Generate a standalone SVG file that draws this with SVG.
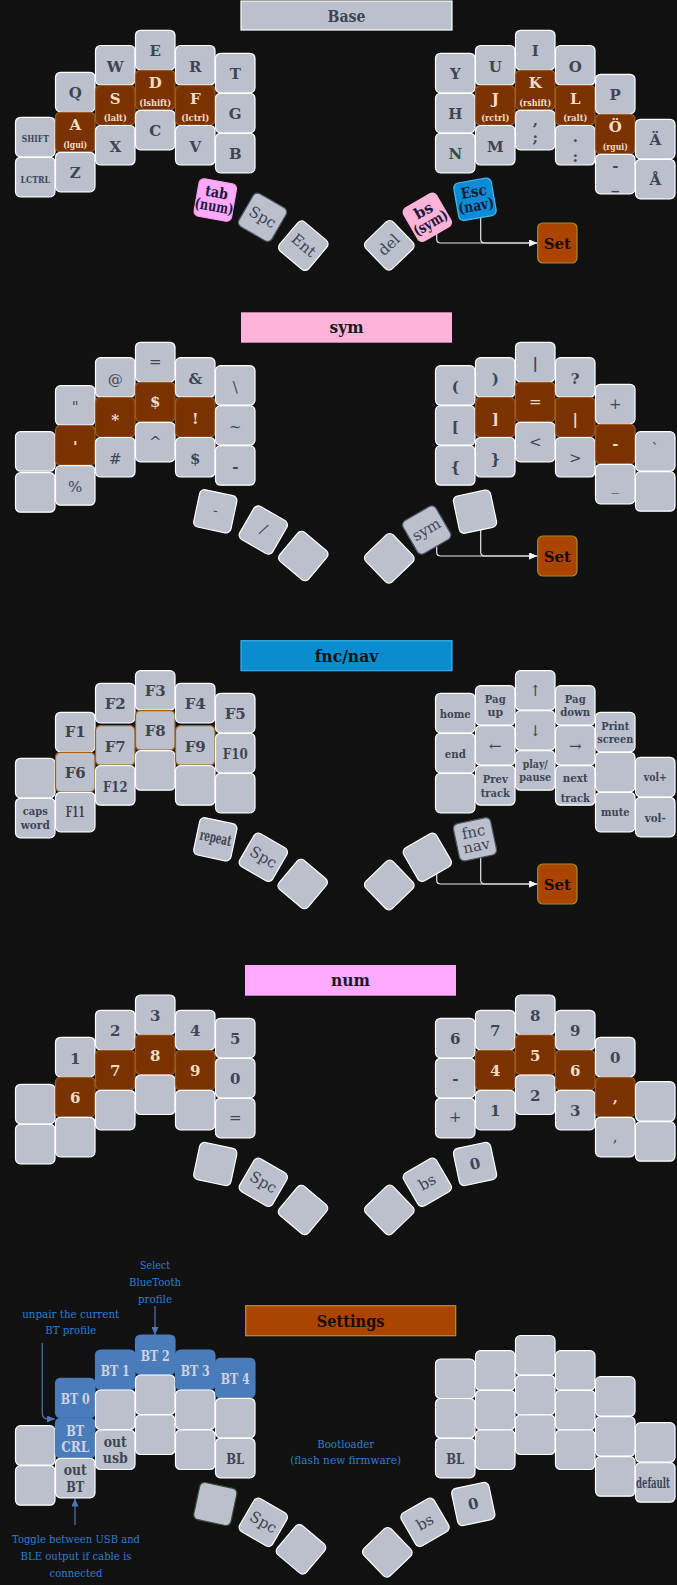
<svg xmlns="http://www.w3.org/2000/svg" width="677" height="1585" viewBox="0 0 677 1585">
<style>
.k{fill:#bcc0cc;stroke:#fff;stroke-width:1.2;rx:5px}
.h{fill:#7a3300;stroke:#9c5c1c}
.o{stroke:#a0600f}
.b{fill:#4a7cbc;stroke:#4a7cbc}
.dk{stroke:#4e5564}
.t{font-family:"DejaVu Serif",serif;font-weight:bold;font-size:15px;fill:#3c4656;text-anchor:middle}
.s{font-size:10px}
.m{font-size:11px}
.l{fill:#f3dcc6}
.w{fill:#cfd3de}
.n{font-weight:normal}
.d{fill:#1a1a3a}
.c{fill:none;stroke:#e6e6e6;stroke-width:1.2}
.a{font-family:"DejaVu Serif",serif;font-size:11px;fill:#2a7fd4;text-anchor:middle}
.ab{fill:none;stroke:#4a78b0;stroke-width:1.2}
.ttl{font-family:"DejaVu Serif",serif;font-weight:bold;font-size:17px;text-anchor:middle}
.set{fill:#aa4400;stroke:#a88a2a;stroke-width:1.2;rx:5px}
</style>
<defs>
<marker id="aw" markerWidth="8" markerHeight="7" refX="8" refY="3.5" orient="auto" markerUnits="userSpaceOnUse"><path d="M0,0 L8,3.5 L0,7 z" fill="#f0f0f0"/></marker>
<marker id="ab" markerWidth="8" markerHeight="7" refX="8" refY="3.5" orient="auto" markerUnits="userSpaceOnUse"><path d="M0,0 L8,3.5 L0,7 z" fill="#4a78b0"/></marker>
</defs>
<rect width="677" height="1585" fill="#111111"/>

<g id="connectors">
<path class="c" d="M436.7,228 V239 Q436.7,243 440.7,243 H537" marker-end="url(#aw)"/>
<path class="c" d="M480.7,208 V239 Q480.7,243 484.7,243 H537" marker-end="url(#aw)"/>
<path class="c" d="M436.7,540 V552 Q436.7,556 440.7,556 H537" marker-end="url(#aw)"/>
<path class="c" d="M480.7,520 V552 Q480.7,556 484.7,556 H537" marker-end="url(#aw)"/>
<path class="c" d="M436.7,866 V880 Q436.7,884 440.7,884 H537" marker-end="url(#aw)"/>
<path class="c" d="M480.7,848 V880 Q480.7,884 484.7,884 H537" marker-end="url(#aw)"/>
<path class="ab" d="M155,1306 V1335" marker-end="url(#ab)"/>
<path class="ab" d="M42.3,1343 V1413 Q42.3,1419 48.3,1419 H55" marker-end="url(#ab)"/>
<path class="ab" d="M75,1525 V1498.5" marker-end="url(#ab)"/>
</g>

<!-- ================= BASE ================= -->
<g id="base">
<g id="base-title"><rect x="241" y="1" width="211" height="29" fill="#bcc0cc" stroke="#fff" stroke-width="1.2"/><text class="ttl" x="346.5" y="21.5" fill="#3c4656" textLength="38" lengthAdjust="spacingAndGlyphs">Base</text></g>
<g id="b-shift" transform="translate(15.5,117.3)"><rect class="k" width="39.5" height="39.5"/><text class="t s" x="19.75" y="25" textLength="27" lengthAdjust="spacingAndGlyphs">SHIFT</text></g>
<g id="b-lctrl" transform="translate(15.5,157.3)"><rect class="k" width="39.5" height="39.5"/><text class="t s" x="19.75" y="26" textLength="29.5" lengthAdjust="spacingAndGlyphs">LCTRL</text></g>
<g id="b-q" transform="translate(55.5,72.3)"><rect class="k" width="39.5" height="39.5"/><text class="t" x="19.75" y="26">Q</text></g>
<g id="b-a" transform="translate(55.5,112.3)"><rect class="k h" width="39.5" height="39.5"/><text class="t l" x="19.75" y="18">A</text><text class="t s l" x="19.75" y="35.5" textLength="24" lengthAdjust="spacingAndGlyphs">(lgui)</text></g>
<g id="b-z" transform="translate(55.5,152.3)"><rect class="k" width="39.5" height="39.5"/><text class="t" x="19.75" y="26">Z</text></g>
<g id="b-w" transform="translate(95.5,45.5)"><rect class="k" width="39.5" height="39.5"/><text class="t" x="19.75" y="26">W</text></g>
<g id="b-s" transform="translate(95.5,85.5)"><rect class="k h" width="39.5" height="39.5"/><text class="t l" x="19.75" y="18">S</text><text class="t s l" x="19.75" y="35.5" textLength="23" lengthAdjust="spacingAndGlyphs">(lalt)</text></g>
<g id="b-x" transform="translate(95.5,125.5)"><rect class="k" width="39.5" height="39.5"/><text class="t" x="19.75" y="26">X</text></g>
<g id="b-e" transform="translate(135.5,30.3)"><rect class="k" width="39.5" height="39.5"/><text class="t" x="19.75" y="26">E</text></g>
<g id="b-d" transform="translate(135.5,70.3)"><rect class="k h" width="39.5" height="39.5"/><text class="t l" x="19.75" y="18">D</text><text class="t s l" x="19.75" y="35.5" textLength="32" lengthAdjust="spacingAndGlyphs">(lshift)</text></g>
<g id="b-c" transform="translate(135.5,110.3)"><rect class="k" width="39.5" height="39.5"/><text class="t" x="19.75" y="26">C</text></g>
<g id="b-r" transform="translate(175.5,45.5)"><rect class="k" width="39.5" height="39.5"/><text class="t" x="19.75" y="26">R</text></g>
<g id="b-f" transform="translate(175.5,85.5)"><rect class="k h" width="39.5" height="39.5"/><text class="t l" x="19.75" y="18">F</text><text class="t s l" x="19.75" y="35.5" textLength="28" lengthAdjust="spacingAndGlyphs">(lctrl)</text></g>
<g id="b-v" transform="translate(175.5,125.5)"><rect class="k" width="39.5" height="39.5"/><text class="t" x="19.75" y="26">V</text></g>
<g id="b-t" transform="translate(215.5,53.3)"><rect class="k" width="39.5" height="39.5"/><text class="t" x="19.75" y="26">T</text></g>
<g id="b-g" transform="translate(215.5,93.3)"><rect class="k" width="39.5" height="39.5"/><text class="t" x="19.75" y="26">G</text></g>
<g id="b-b" transform="translate(215.5,133.3)"><rect class="k" width="39.5" height="39.5"/><text class="t" x="19.75" y="26">B</text></g>
<g id="b-y" transform="translate(435.5,53.3)"><rect class="k" width="39.5" height="39.5"/><text class="t" x="19.75" y="26">Y</text></g>
<g id="b-h" transform="translate(435.5,93.3)"><rect class="k" width="39.5" height="39.5"/><text class="t" x="19.75" y="26">H</text></g>
<g id="b-n" transform="translate(435.5,133.3)"><rect class="k" width="39.5" height="39.5"/><text class="t" x="19.75" y="26">N</text></g>
<g id="b-u" transform="translate(475.5,45.5)"><rect class="k" width="39.5" height="39.5"/><text class="t" x="19.75" y="26">U</text></g>
<g id="b-j" transform="translate(475.5,85.5)"><rect class="k h" width="39.5" height="39.5"/><text class="t l" x="19.75" y="18">J</text><text class="t s l" x="19.75" y="35.5" textLength="28" lengthAdjust="spacingAndGlyphs">(rctrl)</text></g>
<g id="b-m" transform="translate(475.5,125.5)"><rect class="k" width="39.5" height="39.5"/><text class="t" x="19.75" y="26">M</text></g>
<g id="b-i" transform="translate(515.5,30.3)"><rect class="k" width="39.5" height="39.5"/><text class="t" x="19.75" y="26">I</text></g>
<g id="b-k" transform="translate(515.5,70.3)"><rect class="k h" width="39.5" height="39.5"/><text class="t l" x="19.75" y="18">K</text><text class="t s l" x="19.75" y="35.5" textLength="32" lengthAdjust="spacingAndGlyphs">(rshift)</text></g>
<g id="b-comma" transform="translate(515.5,110.3)"><rect class="k" width="39.5" height="39.5"/><text class="t" x="19.75" y="15">,</text><text class="t" x="19.75" y="33">;</text></g>
<g id="b-o" transform="translate(555.5,45.5)"><rect class="k" width="39.5" height="39.5"/><text class="t" x="19.75" y="26">O</text></g>
<g id="b-l" transform="translate(555.5,85.5)"><rect class="k h" width="39.5" height="39.5"/><text class="t l" x="19.75" y="18">L</text><text class="t s l" x="19.75" y="35.5" textLength="24" lengthAdjust="spacingAndGlyphs">(ralt)</text></g>
<g id="b-dot" transform="translate(555.5,125.5)"><rect class="k" width="39.5" height="39.5"/><text class="t" x="19.75" y="16">.</text><text class="t" x="19.75" y="36">:</text></g>
<g id="b-p" transform="translate(595.5,74.3)"><rect class="k" width="39.5" height="39.5"/><text class="t" x="19.75" y="26">P</text></g>
<g id="b-oe" transform="translate(595.5,114.3)"><rect class="k h" width="39.5" height="39.5"/><text class="t l" x="19.75" y="18">Ö</text><text class="t s l" x="19.75" y="35.5" textLength="25" lengthAdjust="spacingAndGlyphs">(rgui)</text></g>
<g id="b-dash" transform="translate(595.5,154.3)"><rect class="k" width="39.5" height="39.5"/><text class="t" x="19.75" y="16.5">-</text><text class="t" x="19.75" y="35">_</text></g>
<g id="b-ae" transform="translate(635.5,119.3)"><rect class="k" width="39.5" height="39.5"/><text class="t" x="19.75" y="26">Ä</text></g>
<g id="b-aa" transform="translate(635.5,159.3)"><rect class="k" width="39.5" height="39.5"/><text class="t" x="19.75" y="26">Å</text></g>
<g id="b-tab" transform="translate(215.3,200) rotate(10)"><rect class="k" x="-19" y="-19" width="38" height="38" style="fill:#ffaaff;stroke:#ff99ee"/><text class="t d" x="0" y="-2.5" font-size="14" textLength="23" lengthAdjust="spacingAndGlyphs">tab</text><text class="t d" x="0" y="11.5" font-size="14" textLength="39" lengthAdjust="spacingAndGlyphs">(num)</text></g>
<g id="b-spc" transform="translate(262.5,217.3) rotate(30)"><rect class="k dk" x="-19" y="-19" width="38" height="38"/><text class="t n" x="0" y="5" font-size="14">Spc</text></g>
<g id="b-ent" transform="translate(303.3,245.7) rotate(40)"><rect class="k" x="-19" y="-19" width="38" height="38"/><text class="t n" x="0" y="4.5" font-size="13">Ent</text></g>
<g id="b-del" transform="translate(389.3,245.3) rotate(-44)"><rect class="k" x="-19" y="-19" width="38" height="38"/><text class="t n" x="0" y="4.5" font-size="13">del</text></g>
<g id="b-bs" transform="translate(427.3,217.3) rotate(-30)"><rect class="k" x="-19" y="-19" width="38" height="38" style="fill:#ffb3d9;stroke:#ffb3d9"/><text class="t d" x="0" y="-2.5" font-size="14">bs</text><text class="t d" x="0" y="11.5" font-size="14" textLength="37" lengthAdjust="spacingAndGlyphs">(sym)</text></g>
<g id="b-esc" transform="translate(475,199.3) rotate(-10)"><rect class="k" x="-19" y="-19" width="38" height="38" style="fill:#0a8dd4;stroke:#45b6f2"/><text class="t d" x="0" y="-2.5" font-size="14" textLength="26" lengthAdjust="spacingAndGlyphs">Esc</text><text class="t d" x="0" y="11.5" font-size="14" textLength="36" lengthAdjust="spacingAndGlyphs">(nav)</text></g>
<g id="b-set"><rect class="set" x="537.7" y="223" width="39.3" height="40"/><text class="t" x="557.3" y="248.5" style="fill:#1a0a00">Set</text></g>
</g>

<!-- ================= SYM ================= -->
<g id="sym">
<g id="sym-title"><rect x="241" y="312.3" width="211" height="30.4" fill="#ffb3d9"/><text class="ttl" x="346.5" y="333" fill="#1a1a1a" textLength="34" lengthAdjust="spacingAndGlyphs">sym</text></g>
<g id="s-l0a" transform="translate(15.5,431.7)"><rect class="k" width="39.5" height="39.5"/></g>
<g id="s-l0b" transform="translate(15.5,472.7)"><rect class="k" width="39.5" height="39.5"/></g>
<g id="s-dq" transform="translate(55.5,385.7)"><rect class="k" width="39.5" height="39.5"/><text class="t n" x="19.75" y="26">"</text></g>
<g id="s-sq" transform="translate(55.5,425.5)"><rect class="k h" width="39.5" height="39.5"/><text class="t l" x="19.75" y="26">'</text></g>
<g id="s-pct" transform="translate(55.5,465.7)"><rect class="k" width="39.5" height="39.5"/><text class="t n" x="19.75" y="26">%</text></g>
<g id="s-at" transform="translate(95.5,357.7)"><rect class="k" width="39.5" height="39.5"/><text class="t n" x="19.75" y="26">@</text></g>
<g id="s-ast" transform="translate(95.5,397.5)"><rect class="k h" width="39.5" height="39.5"/><text class="t l" x="19.75" y="27">*</text></g>
<g id="s-hash" transform="translate(95.5,437.5)"><rect class="k" width="39.5" height="39.5"/><text class="t n" x="19.75" y="26">#</text></g>
<g id="s-eq" transform="translate(135.5,342.3)"><rect class="k" width="39.5" height="39.5"/><text class="t n" x="19.75" y="25">=</text></g>
<g id="s-dol" transform="translate(135.5,382.3)"><rect class="k h" width="39.5" height="39.5"/><text class="t l" x="19.75" y="25">$</text></g>
<g id="s-car" transform="translate(135.5,422.3)"><rect class="k" width="39.5" height="39.5"/><text class="t n" x="19.75" y="25">^</text></g>
<g id="s-amp" transform="translate(175.5,357.7)"><rect class="k" width="39.5" height="39.5"/><text class="t" x="19.75" y="26">&amp;</text></g>
<g id="s-exc" transform="translate(175.5,397.5)"><rect class="k h" width="39.5" height="39.5"/><text class="t l" x="19.75" y="26">!</text></g>
<g id="s-dol2" transform="translate(175.5,437.5)"><rect class="k" width="39.5" height="39.5"/><text class="t" x="19.75" y="26">$</text></g>
<g id="s-bsl" transform="translate(215.5,365.7)"><rect class="k" width="39.5" height="39.5"/><text class="t n" x="19.75" y="26">\</text></g>
<g id="s-til" transform="translate(215.5,405.7)"><rect class="k" width="39.5" height="39.5"/><text class="t n" x="19.75" y="26">~</text></g>
<g id="s-min" transform="translate(215.5,445.7)"><rect class="k" width="39.5" height="39.5"/><text class="t" x="19.75" y="26">-</text></g>
<g id="s-lp" transform="translate(435.5,365.7)"><rect class="k" width="39.5" height="39.5"/><text class="t" x="19.75" y="26">(</text></g>
<g id="s-lb" transform="translate(435.5,405.7)"><rect class="k" width="39.5" height="39.5"/><text class="t" x="19.75" y="26">[</text></g>
<g id="s-lc" transform="translate(435.5,445.7)"><rect class="k" width="39.5" height="39.5"/><text class="t" x="19.75" y="26">{</text></g>
<g id="s-rp" transform="translate(475.5,357.7)"><rect class="k" width="39.5" height="39.5"/><text class="t" x="19.75" y="26">)</text></g>
<g id="s-rb" transform="translate(475.5,397.5)"><rect class="k h" width="39.5" height="39.5"/><text class="t l" x="19.75" y="26">]</text></g>
<g id="s-rc" transform="translate(475.5,437.5)"><rect class="k" width="39.5" height="39.5"/><text class="t" x="19.75" y="26">}</text></g>
<g id="s-pipe" transform="translate(515.5,342.3)"><rect class="k" width="39.5" height="39.5"/><text class="t" x="19.75" y="26">|</text></g>
<g id="s-eq2" transform="translate(515.5,382.3)"><rect class="k h" width="39.5" height="39.5"/><text class="t l n" x="19.75" y="25">=</text></g>
<g id="s-lt" transform="translate(515.5,422.3)"><rect class="k" width="39.5" height="39.5"/><text class="t n" x="19.75" y="25">&lt;</text></g>
<g id="s-q" transform="translate(555.5,357.7)"><rect class="k" width="39.5" height="39.5"/><text class="t" x="19.75" y="26">?</text></g>
<g id="s-pipe2" transform="translate(555.5,397.5)"><rect class="k h" width="39.5" height="39.5"/><text class="t l" x="19.75" y="26">|</text></g>
<g id="s-gt" transform="translate(555.5,437.5)"><rect class="k" width="39.5" height="39.5"/><text class="t n" x="19.75" y="25">&gt;</text></g>
<g id="s-plus" transform="translate(595.5,384.3)"><rect class="k" width="39.5" height="39.5"/><text class="t n" x="19.75" y="25">+</text></g>
<g id="s-dash" transform="translate(595.5,424.3)"><rect class="k h" width="39.5" height="39.5"/><text class="t l" x="19.75" y="25">-</text></g>
<g id="s-us" transform="translate(595.5,464.3)"><rect class="k" width="39.5" height="39.5"/><text class="t n" x="19.75" y="26">_</text></g>
<g id="s-bt" transform="translate(635.5,431.7)"><rect class="k" width="39.5" height="39.5"/><text class="t n" x="19.75" y="22">`</text></g>
<g id="s-r5b" transform="translate(635.5,471.7)"><rect class="k" width="39.5" height="39.5"/></g>
<g id="s-t1" transform="translate(215.3,511.3) rotate(12)"><rect class="k" x="-19" y="-19" width="38" height="38"/><text class="t n" x="0" y="4" font-size="12">-</text></g>
<g id="s-t2" transform="translate(263.3,530) rotate(30)"><rect class="k" x="-19" y="-19" width="38" height="38"/><text class="t n" x="0" y="4" font-size="12">/</text></g>
<g id="s-t3" transform="translate(303.3,556) rotate(40)"><rect class="k" x="-19" y="-19" width="38" height="38"/></g>
<g id="s-t4" transform="translate(389.3,558.3) rotate(-44)"><rect class="k" x="-19" y="-19" width="38" height="38"/></g>
<g id="s-t5" transform="translate(426.7,530) rotate(-30)"><rect class="k dk" x="-19" y="-19" width="38" height="38"/><text class="t n" x="0" y="4.5" font-size="14" textLength="30" lengthAdjust="spacingAndGlyphs">sym</text></g>
<g id="s-t6" transform="translate(475,511.7) rotate(-12)"><rect class="k" x="-19" y="-19" width="38" height="38"/></g>
<g id="s-set"><rect class="set" x="537.7" y="536" width="39.3" height="40"/><text class="t" x="557.3" y="561.5" style="fill:#1a0a00">Set</text></g>
</g>

<!-- ================= FNC/NAV ================= -->
<g id="fnc">
<g id="fnc-title"><rect x="241" y="640.7" width="211" height="30" fill="#0a8dcf" stroke="#3ab0f0" stroke-width="1.2"/><text class="ttl" x="346.5" y="661.5" fill="#111" textLength="63.7" lengthAdjust="spacingAndGlyphs">fnc/nav</text></g>
<g id="f-l0a" transform="translate(15.5,758.3)"><rect class="k" width="39.5" height="39.5"/></g>
<g id="f-caps" transform="translate(15.5,798.3)"><rect class="k" width="39.5" height="39.5"/><text class="t m" x="19.75" y="17" textLength="25" lengthAdjust="spacingAndGlyphs">caps</text><text class="t m" x="19.75" y="31" textLength="29" lengthAdjust="spacingAndGlyphs">word</text></g>
<g id="f-f1" transform="translate(55.5,712.3)"><rect class="k" width="39.5" height="39.5"/><text class="t" x="19.75" y="25" font-size="12">F1</text></g>
<g id="f-f6" transform="translate(55.5,752.3)"><rect class="k o" width="39.5" height="39.5"/><text class="t" x="19.75" y="25.5">F6</text></g>
<g id="f-f11" transform="translate(55.5,792.3)"><rect class="k" width="39.5" height="39.5"/><text class="t" x="19.75" y="25" font-size="12" textLength="19" lengthAdjust="spacingAndGlyphs">F11</text></g>
<g id="f-f2" transform="translate(95.5,683.3)"><rect class="k" width="39.5" height="39.5"/><text class="t" x="19.75" y="26">F2</text></g>
<g id="f-f7" transform="translate(95.5,725.7)"><rect class="k o" width="39.5" height="39.5"/><text class="t" x="19.75" y="26">F7</text></g>
<g id="f-f12" transform="translate(95.5,765.7)"><rect class="k" width="39.5" height="39.5"/><text class="t" x="19.75" y="26" textLength="24.5" lengthAdjust="spacingAndGlyphs">F12</text></g>
<g id="f-f3" transform="translate(135.5,670.7)"><rect class="k" width="39.5" height="39.5"/><text class="t" x="19.75" y="25.5">F3</text></g>
<g id="f-f8" transform="translate(135.5,710.7)"><rect class="k o" width="39.5" height="39.5"/><text class="t" x="19.75" y="25.5">F8</text></g>
<g id="f-l3c" transform="translate(135.5,750.7)"><rect class="k" width="39.5" height="39.5"/></g>
<g id="f-f4" transform="translate(175.5,683.3)"><rect class="k" width="39.5" height="39.5"/><text class="t" x="19.75" y="26">F4</text></g>
<g id="f-f9" transform="translate(175.5,725.7)"><rect class="k o" width="39.5" height="39.5"/><text class="t" x="19.75" y="26">F9</text></g>
<g id="f-l4c" transform="translate(175.5,765.7)"><rect class="k" width="39.5" height="39.5"/></g>
<g id="f-f5" transform="translate(215.5,693.3)"><rect class="k" width="39.5" height="39.5"/><text class="t" x="19.75" y="26">F5</text></g>
<g id="f-f10" transform="translate(215.5,733.3)"><rect class="k" width="39.5" height="39.5"/><text class="t" x="19.75" y="26" textLength="25" lengthAdjust="spacingAndGlyphs">F10</text></g>
<g id="f-l5c" transform="translate(215.5,773.3)"><rect class="k" width="39.5" height="39.5"/></g>
<g id="f-home" transform="translate(435.5,693.3)"><rect class="k" width="39.5" height="39.5"/><text class="t m" x="19.75" y="24.5" textLength="31" lengthAdjust="spacingAndGlyphs">home</text></g>
<g id="f-end" transform="translate(435.5,733.3)"><rect class="k" width="39.5" height="39.5"/><text class="t m" x="19.75" y="24.5" textLength="21" lengthAdjust="spacingAndGlyphs">end</text></g>
<g id="f-r0c" transform="translate(435.5,773.3)"><rect class="k" width="39.5" height="39.5"/></g>
<g id="f-pgup" transform="translate(475.5,685.7)"><rect class="k" width="39.5" height="39.5"/><text class="t m" x="19.75" y="17" textLength="21" lengthAdjust="spacingAndGlyphs">Pag</text><text class="t m" x="19.75" y="30.5">up</text></g>
<g id="f-left" transform="translate(475.5,725.7)"><rect class="k" width="39.5" height="39.5"/><text class="t n" x="19.75" y="25" font-size="14">←</text></g>
<g id="f-prev" transform="translate(475.5,765.7)"><rect class="k" width="39.5" height="39.5"/><text class="t m" x="19.75" y="17.5" textLength="25" lengthAdjust="spacingAndGlyphs">Prev</text><text class="t m" x="19.75" y="31.5" textLength="29" lengthAdjust="spacingAndGlyphs">track</text></g>
<g id="f-up" transform="translate(515.5,670.7)"><rect class="k" width="39.5" height="39.5"/><text class="t n" x="19.75" y="25" font-size="14">↑</text></g>
<g id="f-down" transform="translate(515.5,710.7)"><rect class="k" width="39.5" height="39.5"/><text class="t n" x="19.75" y="25" font-size="14">↓</text></g>
<g id="f-play" transform="translate(515.5,750.7)"><rect class="k" width="39.5" height="39.5"/><text class="t m" x="19.75" y="17.8" textLength="25" lengthAdjust="spacingAndGlyphs">play/</text><text class="t m" x="19.75" y="30.6" textLength="32" lengthAdjust="spacingAndGlyphs">pause</text></g>
<g id="f-pgdn" transform="translate(555.5,685.7)"><rect class="k" width="39.5" height="39.5"/><text class="t m" x="19.75" y="17" textLength="21" lengthAdjust="spacingAndGlyphs">Pag</text><text class="t m" x="19.75" y="30.5" textLength="30" lengthAdjust="spacingAndGlyphs">down</text></g>
<g id="f-right" transform="translate(555.5,725.7)"><rect class="k" width="39.5" height="39.5"/><text class="t n" x="19.75" y="25" font-size="14">→</text></g>
<g id="f-next" transform="translate(555.5,765.7)"><rect class="k" width="39.5" height="39.5"/><text class="t m" x="19.75" y="16" textLength="25" lengthAdjust="spacingAndGlyphs">next</text><text class="t m" x="19.75" y="36.5" textLength="29" lengthAdjust="spacingAndGlyphs">track</text></g>
<g id="f-print" transform="translate(595.5,712.3)"><rect class="k" width="39.5" height="39.5"/><text class="t m" x="19.75" y="17.5" textLength="28" lengthAdjust="spacingAndGlyphs">Print</text><text class="t m" x="19.75" y="31" textLength="36" lengthAdjust="spacingAndGlyphs">screen</text></g>
<g id="f-r4b" transform="translate(595.5,752.3)"><rect class="k" width="39.5" height="39.5"/></g>
<g id="f-mute" transform="translate(595.5,792.3)"><rect class="k" width="39.5" height="39.5"/><text class="t m" x="19.75" y="24" textLength="28.5" lengthAdjust="spacingAndGlyphs">mute</text></g>
<g id="f-volp" transform="translate(635.5,757.3)"><rect class="k" width="39.5" height="39.5"/><text class="t m" x="19.75" y="24" textLength="23" lengthAdjust="spacingAndGlyphs">vol+</text></g>
<g id="f-volm" transform="translate(635.5,797.3)"><rect class="k" width="39.5" height="39.5"/><text class="t m" x="19.75" y="24.5" textLength="21" lengthAdjust="spacingAndGlyphs">vol-</text></g>
<g id="f-t1" transform="translate(215.3,839.3) rotate(12)"><rect class="k" x="-19" y="-19" width="38" height="38"/><text class="t" x="0" y="3.5" font-size="10" textLength="32" lengthAdjust="spacingAndGlyphs">repeat</text></g>
<g id="f-t2" transform="translate(263.3,857.3) rotate(30)"><rect class="k" x="-19" y="-19" width="38" height="38"/><text class="t n" x="0" y="5" font-size="14">Spc</text></g>
<g id="f-t3" transform="translate(302.7,884) rotate(40)"><rect class="k" x="-19" y="-19" width="38" height="38"/></g>
<g id="f-t4" transform="translate(389.3,885) rotate(-44)"><rect class="k" x="-19" y="-19" width="38" height="38"/></g>
<g id="f-t5" transform="translate(427.3,857.3) rotate(-30)"><rect class="k" x="-19" y="-19" width="38" height="38"/></g>
<g id="f-t6" transform="translate(475,839.3) rotate(-12)"><rect class="k dk" x="-19" y="-19" width="38" height="38"/><text class="t n" x="0" y="-2.5" font-size="14">fnc</text><text class="t n" x="0" y="12" font-size="14">nav</text></g>
<g id="f-set"><rect class="set" x="537.7" y="864" width="39.3" height="40"/><text class="t" x="557.3" y="889.5" style="fill:#1a0a00">Set</text></g>
</g>

<!-- ================= NUM ================= -->
<g id="num">
<g id="num-title"><rect x="245" y="965" width="211" height="30.7" fill="#ffaaff"/><text class="ttl" x="350.5" y="986" fill="#1a1a2a" textLength="39" lengthAdjust="spacingAndGlyphs">num</text></g>
<g id="n-l0a" transform="translate(15.5,1084.3)"><rect class="k" width="39.5" height="39.5"/></g>
<g id="n-l0b" transform="translate(15.5,1124.3)"><rect class="k" width="39.5" height="39.5"/></g>
<g id="n-1" transform="translate(55.5,1037.3)"><rect class="k" width="39.5" height="39.5"/><text class="t" x="19.75" y="26.5">1</text></g>
<g id="n-6" transform="translate(55.5,1077.3)"><rect class="k h" width="39.5" height="39.5"/><text class="t l" x="19.75" y="26">6</text></g>
<g id="n-l1c" transform="translate(55.5,1117.3)"><rect class="k" width="39.5" height="39.5"/></g>
<g id="n-2" transform="translate(95.5,1010.3)"><rect class="k" width="39.5" height="39.5"/><text class="t" x="19.75" y="26">2</text></g>
<g id="n-7" transform="translate(95.5,1050.3)"><rect class="k h" width="39.5" height="39.5"/><text class="t l" x="19.75" y="26">7</text></g>
<g id="n-l2c" transform="translate(95.5,1090.3)"><rect class="k" width="39.5" height="39.5"/></g>
<g id="n-3" transform="translate(135.5,995)"><rect class="k" width="39.5" height="39.5"/><text class="t" x="19.75" y="26">3</text></g>
<g id="n-8" transform="translate(135.5,1035)"><rect class="k h" width="39.5" height="39.5"/><text class="t l" x="19.75" y="26">8</text></g>
<g id="n-l3c" transform="translate(135.5,1075)"><rect class="k" width="39.5" height="39.5"/></g>
<g id="n-4" transform="translate(175.5,1010.3)"><rect class="k" width="39.5" height="39.5"/><text class="t" x="19.75" y="26">4</text></g>
<g id="n-9" transform="translate(175.5,1050.3)"><rect class="k h" width="39.5" height="39.5"/><text class="t l" x="19.75" y="26">9</text></g>
<g id="n-l4c" transform="translate(175.5,1090.3)"><rect class="k" width="39.5" height="39.5"/></g>
<g id="n-5" transform="translate(215.5,1018.3)"><rect class="k" width="39.5" height="39.5"/><text class="t" x="19.75" y="26">5</text></g>
<g id="n-0" transform="translate(215.5,1058.3)"><rect class="k" width="39.5" height="39.5"/><text class="t" x="19.75" y="26">0</text></g>
<g id="n-eq" transform="translate(215.5,1098.3)"><rect class="k" width="39.5" height="39.5"/><text class="t n" x="19.75" y="25" font-size="12">=</text></g>
<g id="n-r6" transform="translate(435.5,1018.3)"><rect class="k" width="39.5" height="39.5"/><text class="t" x="19.75" y="26">6</text></g>
<g id="n-min" transform="translate(435.5,1058.3)"><rect class="k" width="39.5" height="39.5"/><text class="t" x="19.75" y="26">-</text></g>
<g id="n-plus" transform="translate(435.5,1098.3)"><rect class="k" width="39.5" height="39.5"/><text class="t n" x="19.75" y="24" font-size="11">+</text></g>
<g id="n-r7" transform="translate(475.5,1010.3)"><rect class="k" width="39.5" height="39.5"/><text class="t" x="19.75" y="26">7</text></g>
<g id="n-r4" transform="translate(475.5,1050.3)"><rect class="k h" width="39.5" height="39.5"/><text class="t l" x="19.75" y="26">4</text></g>
<g id="n-r1" transform="translate(475.5,1090.3)"><rect class="k" width="39.5" height="39.5"/><text class="t" x="19.75" y="26">1</text></g>
<g id="n-r8" transform="translate(515.5,995)"><rect class="k" width="39.5" height="39.5"/><text class="t" x="19.75" y="26">8</text></g>
<g id="n-r5" transform="translate(515.5,1035)"><rect class="k h" width="39.5" height="39.5"/><text class="t l" x="19.75" y="26">5</text></g>
<g id="n-r2" transform="translate(515.5,1075)"><rect class="k" width="39.5" height="39.5"/><text class="t" x="19.75" y="26">2</text></g>
<g id="n-r9" transform="translate(555.5,1010.3)"><rect class="k" width="39.5" height="39.5"/><text class="t" x="19.75" y="26">9</text></g>
<g id="n-r6h" transform="translate(555.5,1050.3)"><rect class="k h" width="39.5" height="39.5"/><text class="t l" x="19.75" y="26">6</text></g>
<g id="n-r3" transform="translate(555.5,1090.3)"><rect class="k" width="39.5" height="39.5"/><text class="t" x="19.75" y="26">3</text></g>
<g id="n-r0" transform="translate(595.5,1037.3)"><rect class="k" width="39.5" height="39.5"/><text class="t" x="19.75" y="26">0</text></g>
<g id="n-cm" transform="translate(595.5,1077.3)"><rect class="k h" width="39.5" height="39.5"/><text class="t l" x="19.75" y="25">,</text></g>
<g id="n-cm2" transform="translate(595.5,1117.3)"><rect class="k" width="39.5" height="39.5"/><text class="t n" x="19.75" y="25" font-size="12">,</text></g>
<g id="n-r5a" transform="translate(635.5,1081.7)"><rect class="k" width="39.5" height="39.5"/></g>
<g id="n-r5b" transform="translate(635.5,1121.7)"><rect class="k" width="39.5" height="39.5"/></g>
<g id="n-t1" transform="translate(215.3,1164) rotate(12)"><rect class="k" x="-19" y="-19" width="38" height="38"/></g>
<g id="n-t2" transform="translate(263.3,1182.3) rotate(30)"><rect class="k" x="-19" y="-19" width="38" height="38"/><text class="t n" x="0" y="5" font-size="14">Spc</text></g>
<g id="n-t3" transform="translate(303,1210) rotate(40)"><rect class="k" x="-19" y="-19" width="38" height="38"/></g>
<g id="n-t4" transform="translate(389.3,1210) rotate(-44)"><rect class="k" x="-19" y="-19" width="38" height="38"/></g>
<g id="n-t5" transform="translate(427.3,1182.3) rotate(-30)"><rect class="k" x="-19" y="-19" width="38" height="38"/><text class="t n" x="0" y="5" font-size="15">bs</text></g>
<g id="n-t6" transform="translate(475,1164) rotate(-12)"><rect class="k" x="-19" y="-19" width="38" height="38"/><text class="t" x="0" y="5" font-size="14">0</text></g>
</g>

<!-- ================= SETTINGS ================= -->
<g id="settings">
<g id="set-title"><rect x="245.7" y="1305.7" width="210" height="30" fill="#aa4400" stroke="#c09030" stroke-width="1.2"/><text class="ttl" x="350.7" y="1327" fill="#1a0a00" textLength="67.7" lengthAdjust="spacingAndGlyphs">Settings</text></g>
<g id="g-l0a" transform="translate(15.5,1425.7)"><rect class="k" width="39.5" height="39.5"/></g>
<g id="g-l0b" transform="translate(15.5,1465.7)"><rect class="k" width="39.5" height="39.5"/></g>
<g id="g-bt0" transform="translate(55.5,1378.3)"><rect class="k b" width="39.5" height="39.5"/><text class="t w" x="19.75" y="25.5" textLength="29" lengthAdjust="spacingAndGlyphs">BT 0</text></g>
<g id="g-btcrl" transform="translate(55.5,1418.3)"><rect class="k b" width="39.5" height="39.5"/><text class="t w" x="19.75" y="18" textLength="18" lengthAdjust="spacingAndGlyphs">BT</text><text class="t w" x="19.75" y="34" textLength="28" lengthAdjust="spacingAndGlyphs">CRL</text></g>
<g id="g-outbt" transform="translate(55.5,1458.3)"><rect class="k" width="39.5" height="39.5"/><text class="t" x="19.75" y="17" textLength="23" lengthAdjust="spacingAndGlyphs">out</text><text class="t" x="19.75" y="34" textLength="18" lengthAdjust="spacingAndGlyphs">BT</text></g>
<g id="g-bt1" transform="translate(95.5,1350)"><rect class="k b" width="39.5" height="39.5"/><text class="t w" x="19.75" y="25.5" textLength="29" lengthAdjust="spacingAndGlyphs">BT 1</text></g>
<g id="g-l2b" transform="translate(95.5,1390)"><rect class="k" width="39.5" height="39.5"/></g>
<g id="g-outusb" transform="translate(95.5,1430)"><rect class="k" width="39.5" height="39.5"/><text class="t" x="19.75" y="17" textLength="23" lengthAdjust="spacingAndGlyphs">out</text><text class="t" x="19.75" y="33" textLength="25" lengthAdjust="spacingAndGlyphs">usb</text></g>
<g id="g-bt2" transform="translate(135.5,1335)"><rect class="k b" width="39.5" height="39.5"/><text class="t w" x="19.75" y="25.5" textLength="29" lengthAdjust="spacingAndGlyphs">BT 2</text></g>
<g id="g-l3b" transform="translate(135.5,1375)"><rect class="k" width="39.5" height="39.5"/></g>
<g id="g-l3c" transform="translate(135.5,1415)"><rect class="k" width="39.5" height="39.5"/></g>
<g id="g-bt3" transform="translate(175.5,1350)"><rect class="k b" width="39.5" height="39.5"/><text class="t w" x="19.75" y="25.5" textLength="29" lengthAdjust="spacingAndGlyphs">BT 3</text></g>
<g id="g-l4b" transform="translate(175.5,1390)"><rect class="k" width="39.5" height="39.5"/></g>
<g id="g-l4c" transform="translate(175.5,1430)"><rect class="k" width="39.5" height="39.5"/></g>
<g id="g-bt4" transform="translate(215.5,1358.3)"><rect class="k b" width="39.5" height="39.5"/><text class="t w" x="19.75" y="25.5" textLength="29" lengthAdjust="spacingAndGlyphs">BT 4</text></g>
<g id="g-l5b" transform="translate(215.5,1398.3)"><rect class="k" width="39.5" height="39.5"/></g>
<g id="g-bl" transform="translate(215.5,1438.3)"><rect class="k" width="39.5" height="39.5"/><text class="t" x="19.75" y="26" font-size="14" textLength="18" lengthAdjust="spacingAndGlyphs">BL</text></g>
<g id="g-r0a" transform="translate(435.5,1359)"><rect class="k" width="39.5" height="39.5"/></g>
<g id="g-r0b" transform="translate(435.5,1398.5)"><rect class="k" width="39.5" height="39.5"/></g>
<g id="g-blr" transform="translate(435.5,1438.3)"><rect class="k" width="39.5" height="39.5"/><text class="t" x="19.75" y="26" font-size="14" textLength="18" lengthAdjust="spacingAndGlyphs">BL</text></g>
<g id="g-r1a" transform="translate(475.5,1350.7)"><rect class="k" width="39.5" height="39.5"/></g>
<g id="g-r1b" transform="translate(475.5,1390.3)"><rect class="k" width="39.5" height="39.5"/></g>
<g id="g-r1c" transform="translate(475.5,1430)"><rect class="k" width="39.5" height="39.5"/></g>
<g id="g-r2a" transform="translate(515.5,1335.5)"><rect class="k" width="39.5" height="39.5"/></g>
<g id="g-r2b" transform="translate(515.5,1375.3)"><rect class="k" width="39.5" height="39.5"/></g>
<g id="g-r2c" transform="translate(515.5,1415)"><rect class="k" width="39.5" height="39.5"/></g>
<g id="g-r3a" transform="translate(555.5,1350.7)"><rect class="k" width="39.5" height="39.5"/></g>
<g id="g-r3b" transform="translate(555.5,1390.3)"><rect class="k" width="39.5" height="39.5"/></g>
<g id="g-r3c" transform="translate(555.5,1430)"><rect class="k" width="39.5" height="39.5"/></g>
<g id="g-r4a" transform="translate(595.5,1376.7)"><rect class="k" width="39.5" height="39.5"/></g>
<g id="g-r4b" transform="translate(595.5,1416.7)"><rect class="k" width="39.5" height="39.5"/></g>
<g id="g-r4c" transform="translate(595.5,1456.7)"><rect class="k" width="39.5" height="39.5"/></g>
<g id="g-r5a" transform="translate(635.5,1422.7)"><rect class="k" width="39.5" height="39.5"/></g>
<g id="g-def" transform="translate(635.5,1462.7)"><rect class="k" width="39.5" height="39.5"/><text class="t" x="17.5" y="25" font-size="9" textLength="34" lengthAdjust="spacingAndGlyphs">default</text></g>
<g id="g-t1" transform="translate(215.3,1504) rotate(12)"><rect class="k" x="-19" y="-19" width="38" height="38" style="stroke:#3c4a30"/></g>
<g id="g-t2" transform="translate(263.3,1522.3) rotate(30)"><rect class="k" x="-19" y="-19" width="38" height="38"/><text class="t n" x="0" y="5" font-size="14">Spc</text></g>
<g id="g-t3" transform="translate(301,1549.3) rotate(40)"><rect class="k" x="-19" y="-19" width="38" height="38"/></g>
<g id="g-t4" transform="translate(387.3,1552.3) rotate(-44)"><rect class="k" x="-19" y="-19" width="38" height="38"/></g>
<g id="g-t5" transform="translate(425,1522.3) rotate(-30)"><rect class="k" x="-19" y="-19" width="38" height="38"/><text class="t n" x="0" y="5" font-size="15">bs</text></g>
<g id="g-t6" transform="translate(473.3,1504) rotate(-12)"><rect class="k" x="-19" y="-19" width="38" height="38"/><text class="t" x="0" y="5" font-size="14">0</text></g>
<g id="note-select"><text class="a" x="155" y="1269" textLength="30" lengthAdjust="spacingAndGlyphs">Select</text><text class="a" x="155" y="1286" textLength="52" lengthAdjust="spacingAndGlyphs">BlueTooth</text><text class="a" x="155" y="1303" textLength="34" lengthAdjust="spacingAndGlyphs">profile</text></g>
<g id="note-unpair"><text class="a" x="70.7" y="1318" textLength="97" lengthAdjust="spacingAndGlyphs">unpair the current</text><text class="a" x="70.7" y="1334" textLength="51" lengthAdjust="spacingAndGlyphs">BT profile</text></g>
<g id="note-toggle"><text class="a" x="76" y="1543" textLength="128" lengthAdjust="spacingAndGlyphs">Toggle between USB and</text><text class="a" x="76" y="1560" textLength="111" lengthAdjust="spacingAndGlyphs">BLE output if cable is</text><text class="a" x="76" y="1577" textLength="53" lengthAdjust="spacingAndGlyphs">connected</text></g>
<g id="note-boot"><text class="a" x="345.7" y="1448" textLength="57" lengthAdjust="spacingAndGlyphs">Bootloader</text><text class="a" x="345.7" y="1464" textLength="111" lengthAdjust="spacingAndGlyphs">(flash new firmware)</text></g>
</g>
</svg>
